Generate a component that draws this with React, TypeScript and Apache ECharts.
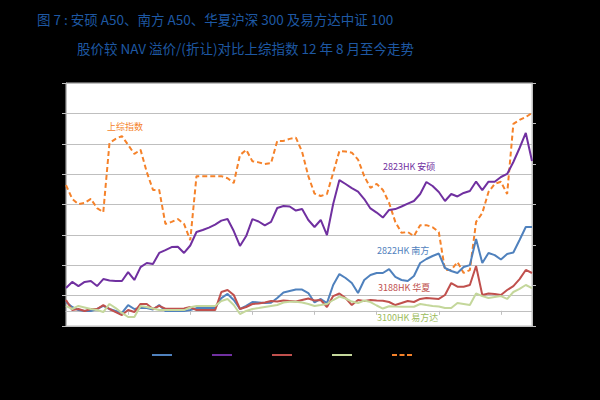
import React, { useEffect, useRef } from "react";
import * as echarts from "echarts";

// Categories (observation index; the reference's x labels are not visible)
const categories: string[] = Array.from({ length: 76 }, (_, i) => String(i + 1));

// Premium / (discount) to NAV, %  (left axis)
const s2822: number[] = [
  0.58, 0.25, 0.05, -0.01, -0.01, 0.12, 0.32, 0.12, -0.01, -0.14,
  0.38, 0.12, 0.18, 0.18, 0.09, 0.38, -0.01, -0.01, -0.01, -0.01,
  0.05, 0.18, 0.18, 0.18, 0.18, 0.84, 1.11, 0.71, 0.12, 0.32,
  0.58, 0.55, 0.51, 0.53, 0.84, 1.2, 1.3, 1.4, 1.4, 1.17,
  0.55, 0.78, 0.51, 1.7, 2.42, 2.16, 1.83, 1.17, 2.03, 2.36,
  2.49, 2.49, 2.75, 2.23, 2.03, 1.96, 2.29, 3.15, 3.41, 3.61,
  3.77, 2.82, 2.62, 2.49, 2.88, 3.01, 4.73, 3.15, 3.81, 3.67,
  3.38, 3.74, 3.84, 4.66, 5.52, 5.52,
];
const s2823: number[] = [
  1.5, 1.9, 1.63, 1.9, 1.96, 1.63, 2.09, 1.99, 1.96, 1.96,
  2.55, 2.03, 2.88, 3.15, 3.08, 3.81, 4.0, 4.2, 4.22, 3.81,
  4.3, 5.19, 5.32, 5.48, 5.68, 5.94, 6.04, 5.25, 4.27, 4.92,
  6.04, 5.88, 5.62, 5.85, 6.77, 6.9, 6.87, 6.6, 6.7, 5.98,
  5.52, 5.98, 4.99, 7.03, 8.61, 8.35, 8.08, 7.85, 7.36, 6.74,
  6.47, 6.14, 6.64, 6.7, 6.87, 7.06, 7.23, 7.69, 8.48, 8.22,
  7.82, 7.23, 7.69, 7.53, 7.76, 7.89, 8.51, 7.95, 8.5, 8.5,
  8.81, 9.01, 9.8, 10.72, 11.71, 9.86,
];
const s3188: number[] = [
  0.71, 0.05, 0.12, -0.01, 0.12, 0.12, 0.38, 0.12, -0.08, -0.28,
  0.05, -0.08, 0.45, 0.45, 0.12, 0.32, 0.14, 0.14, 0.14, 0.15,
  0.25, 0.05, 0.05, 0.05, 0.05, 1.24, 1.37, 1.04, 0.12, 0.25,
  0.45, 0.48, 0.55, 0.65, 0.61, 0.68, 0.65, 0.61, 0.71, 0.81,
  0.68, 0.71, 0.25, 0.97, 1.14, 0.84, 0.38, 0.71, 0.65, 0.71,
  0.68, 0.66, 0.58, 0.38, 0.51, 0.65, 0.58, 0.78, 0.84, 0.81,
  0.78, 1.04, 1.83, 1.59, 1.59, 1.7, 2.95, 1.04, 1.14, 1.11,
  1.04, 1.37, 1.63, 2.09, 2.69, 2.49,
];
const s3100: number[] = [
  0.32, 0.12, 0.32, 0.22, 0.12, 0.05, -0.08, 0.45, 0.18, -0.14,
  -0.41, -0.41, 0.32, 0.25, 0.15, 0.05, 0.05, 0.05, 0.05, 0.05,
  0.23, 0.32, 0.32, 0.32, 0.32, 0.65, 0.78, 0.38, -0.21, -0.01,
  0.12, 0.18, 0.25, 0.32, 0.38, 0.55, 0.6, 0.6, 0.55, 0.45,
  0.32, 0.38, 0.45, 0.71, 0.94, 0.81, 0.61, 0.51, 0.68, 0.58,
  0.35, 0.15, 0.3, 0.28, 0.27, 0.27, 0.27, 0.45, 0.38, 0.32,
  0.28, 0.18, 0.18, 0.51, 0.45, 0.38, 1.14, 0.97, 0.84, 0.91,
  0.97, 0.78, 1.24, 1.44, 1.7, 1.5,
];
// Shanghai Composite (right axis)
const shComp: number[] = [
  2148, 2114, 2101, 2104, 2114, 2091, 2081, 2252, 2262, 2269,
  2247, 2225, 2235, 2180, 2136, 2136, 2052, 2057, 2064, 2052,
  2012, 2170, 2170, 2170, 2170, 2170, 2165, 2153, 2222, 2235,
  2207, 2204, 2200, 2202, 2257, 2257, 2262, 2265, 2230, 2170,
  2127, 2121, 2126, 2178, 2232, 2231, 2228, 2211, 2170, 2141,
  2151, 2136, 2104, 2057, 2030, 2032, 2022, 2049, 2049, 2044,
  2032, 1938, 1938, 1958, 1931, 1938, 2057, 2079, 2131, 2151,
  2156, 2126, 2299, 2309, 2316, 2326,
];

const seriesNames = ["2822HK 南方", "2823HK 安硕", "3188HK 华夏", "3100HK 易方达", "上综指数"];
const seriesColors = ["#4F81BD", "#7030A0", "#C0504D", "#C4D79B", "#F5822A"];
const titleLine1 = "图 7 : 安硕 A50、南方 A50、华夏沪深 300 及易方达中证 100";
const titleLine2 = "股价较 NAV 溢价/(折让)对比上综指数 12 年 8 月至今走势";

const FONT = "'Noto Sans CJK SC', 'Noto Sans', sans-serif";
const SOLID_ICON = "path://M0,0h20v2h-20z";
const DASH_ICON = "path://M0,0h5v2h-5z M7.5,0h5v2h-5z M15,0h5v2h-5z";

export default function App() {
  const ref = useRef<HTMLDivElement>(null);
  useEffect(() => {
    document.body.style.margin = "0";
    document.body.style.background = "#000";
    const chart = echarts.init(ref.current!, null, { renderer: "svg" });
    const data = [s2822, s2823, s3188, s3100];
    const series: any[] = data.map((d, k) => ({
      name: seriesNames[k],
      type: "line",
      yAxisIndex: 0,
      data: d,
      symbol: "none",
      lineStyle: { color: seriesColors[k], width: 2 },
      itemStyle: { color: seriesColors[k] },
      z: 3 + (k === 1 ? 1 : 0),
    }));
    series.push({
      name: seriesNames[4],
      type: "line",
      yAxisIndex: 1,
      data: shComp,
      symbol: "none",
      lineStyle: { color: seriesColors[4], width: 2, type: [5, 3] },
      itemStyle: { color: seriesColors[4] },
      z: 2,
    });
    const lbl = (text: string, x: number, y: number, color: string) => ({
      type: "text",
      left: x,
      top: y,
      z: 10,
      style: { text, fill: color, font: `9px ${FONT}` },
    });
    chart.setOption({
      animation: false,
      backgroundColor: "#000",
      textStyle: { fontFamily: FONT },
      title: [
        {
          text: titleLine1,
          left: 32,
          top: 7,
          textStyle: { color: "#1E58A3", fontSize: 13.5, fontWeight: "normal", fontFamily: FONT },
        },
        {
          text: titleLine2,
          left: 72,
          top: 36,
          textStyle: { color: "#1E58A3", fontSize: 13.5, fontWeight: "normal", fontFamily: FONT },
        },
      ],
      grid: {
        left: 66,
        right: 68,
        top: 83,
        bottom: 74,
        show: true,
        backgroundColor: "#fff",
        borderColor: "#BFBFBF",
        borderWidth: 1,
      },
      legend: {
        left: 147,
        top: 349,
        itemWidth: 20,
        itemHeight: 2,
        itemGap: 40,
        formatter: () => "",
        itemStyle: { borderWidth: 0 },
        lineStyle: { width: 0 },
        data: seriesNames.map((n, k) => ({ name: n, icon: k === 4 ? DASH_ICON : SOLID_ICON })),
      },
      xAxis: {
        type: "category",
        data: categories,
        boundaryGap: false,
        axisLine: { onZero: true, lineStyle: { color: "#BFBFBF", width: 1 } },
        axisTick: { show: true, interval: 9, length: 4, lineStyle: { color: "#BFBFBF" } },
        axisLabel: { show: false },
        splitLine: { show: false },
      },
      yAxis: [
        {
          type: "value",
          min: -1,
          max: 15,
          interval: 2,
          position: "left",
          axisLine: { show: true, lineStyle: { color: "#BFBFBF" } },
          axisTick: { show: true, length: 4, lineStyle: { color: "#BFBFBF" } },
          axisLabel: { show: false },
          splitLine: { show: true, lineStyle: { color: "#BFBFBF", width: 1 } },
        },
        {
          type: "value",
          min: 1800,
          max: 2400,
          interval: 100,
          position: "right",
          axisLine: { show: true, lineStyle: { color: "#BFBFBF" } },
          axisTick: { show: true, length: 4, lineStyle: { color: "#BFBFBF" } },
          axisLabel: { show: false },
          splitLine: { show: false },
        },
      ],
      graphic: [
        lbl("上综指数", 107, 122, "#F5822A"),
        lbl("2823HK 安硕", 383, 162, "#7030A0"),
        lbl("2822HK 南方", 377, 246, "#4F81BD"),
        lbl("3188HK 华夏", 378, 283, "#C0504D"),
        lbl("3100HK 易方达", 377, 313, "#9BBB59"),
      ],
      series,
    });
    return () => chart.dispose();
  }, []);
  return (
    <div
      ref={ref}
      style={{ position: "fixed", left: 0, top: 0, width: 600, height: 400, background: "#000" }}
    />
  );
}
